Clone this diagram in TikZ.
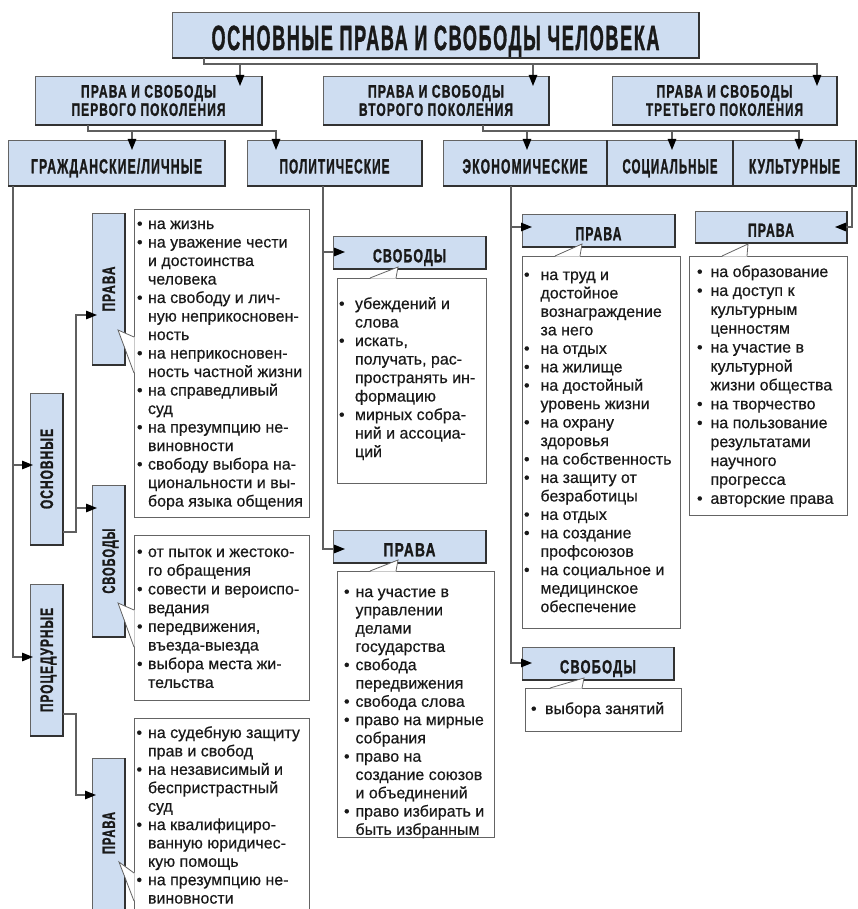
\documentclass[tikz,border=0pt]{standalone}
\usepackage{fontspec}
\setmainfont{Liberation Sans}[FakeBold=0.4]
\newfontfamily\hf{Liberation Sans Bold}[FakeBold=1.6,LetterSpace=9]
\usepackage{graphicx}
\usetikzlibrary{arrows.meta,calc}
\definecolor{boxblue}{RGB}{206,221,241}
\definecolor{edgegray}{RGB}{100,100,100}
\definecolor{shadowgray}{RGB}{50,50,50}
\definecolor{linegray}{RGB}{95,95,95}
\definecolor{ink}{RGB}{25,25,25}
\newlength\bw
\newcommand\hw[2]{\resizebox{#1pt}{\height}{#2}}
\newcommand\hr[3]{\raisebox{-#1pt}{\resizebox{#2pt}{\height}{#3}}}
\newcommand\fl{\rule{0pt}{13pt}}
\newcommand\B{\makebox[\bw][l]{\textbullet}}
\newcommand\C{\hspace*{\bw}}
\newcommand\bodyf[2]{\fontsize{16}{#1}\selectfont\setlength\bw{#2pt}}
\newcommand\lptr[5]{%
  \fill[white] ($(#1.west |- 0,#2)+(0.7,0)$) -- (#3,#4) -- ($(#1.west |- 0,#5)+(0.7,0)$) -- cycle;
  \draw[ptr] (#1.west |- 0,#2) -- (#3,#4) -- (#1.west |- 0,#5);}
\newcommand\tptr[5]{%
  \fill[white] ($(#1.north -| #2,0)+(0,0.7)$) -- (#3,#4) -- ($(#1.north -| #5,0)+(0,0.7)$) -- cycle;
  \draw[ptr] (#1.north -| #2,0) -- (#3,#4) -- (#1.north -| #5,0);}
\begin{document}
\begin{tikzpicture}[x=1pt,y=-1pt,
  bbox/.style={draw=edgegray, line width=0.8pt, fill=boxblue, inner sep=0pt, outer sep=0pt, anchor=north west, text=ink},
  wbox/.style={draw=edgegray, line width=0.8pt, fill=white, inner sep=0pt, outer sep=0pt, anchor=north west},
  txt/.style={anchor=north west, inner sep=0pt, outer sep=0pt, align=left, text=ink},
  hA/.style={font=\hf\fontsize{35}{35}\selectfont, text height=25pt, text depth=0pt},
  hB/.style={font=\hf\fontsize{18}{18.3}\selectfont, align=center},
  hC/.style={font=\hf\fontsize{20.5}{20.5}\selectfont, text height=14.7pt, text depth=0pt},
  hD/.style={font=\hf\fontsize{19}{19}\selectfont, text height=13.6pt, text depth=0pt},
  vtext/.style={rotate=90, inner sep=0pt, text=ink, font=\hf\fontsize{18}{18}\selectfont, text height=12.9pt, text depth=0pt},
  conn/.style={draw=linegray, line width=1.3pt},
  arr/.style={conn, -{Triangle[length=11pt,width=8.5pt,color=black]}},
  ptr/.style={draw=edgegray, line width=0.8pt},
  shad/.style={draw=shadowgray, line width=1.1pt}
]
\useasboundingbox (0,0) rectangle (858,909);
\fill[white] (0,0) rectangle (858,909);
\begin{scope}
\clip (0,0) rectangle (858,909);

% ---------- blue boxes ----------
\node[bbox, hA, minimum width=527pt, minimum height=46pt] (title) at (172,12) {\hr{2.5}{448}{ОСНОВНЫЕ ПРАВА И СВОБОДЫ ЧЕЛОВЕКА}};

\node[bbox, hB, minimum width=227pt, minimum height=49pt] (gen1) at (35,76) {\hw{135}{ПРАВА И СВОБОДЫ}\\\hw{154}{ПЕРВОГО ПОКОЛЕНИЯ}};
\node[bbox, hB, minimum width=226pt, minimum height=49pt] (gen2) at (323,76) {\hw{136}{ПРАВА И СВОБОДЫ}\\\hw{154}{ВТОРОГО ПОКОЛЕНИЯ}};
\node[bbox, hB, minimum width=225pt, minimum height=49pt] (gen3) at (612,76) {\hw{136}{ПРАВА И СВОБОДЫ}\\\hw{157}{ТРЕТЬЕГО ПОКОЛЕНИЯ}};

\node[bbox, hC, minimum width=217pt, minimum height=46pt] (civ) at (8,140) {\hr{3}{171}{ГРАЖДАНСКИЕ/ЛИЧНЫЕ}};
\node[bbox, hC, minimum width=175pt, minimum height=46pt] (pol) at (247,140) {\hr{3}{110}{ПОЛИТИЧЕСКИЕ}};
\node[bbox, hC, minimum width=164pt, minimum height=46pt] (eco) at (443,140) {\hr{3}{125}{ЭКОНОМИЧЕСКИЕ}};
\node[bbox, hC, minimum width=126pt, minimum height=46pt] (soc) at (607,140) {\hr{3}{95}{СОЦИАЛЬНЫЕ}};
\node[bbox, hC, minimum width=123pt, minimum height=46pt] (cul) at (733,140) {\hr{3}{91}{КУЛЬТУРНЫЕ}};

\node[bbox, minimum width=33pt, minimum height=152pt] (osn) at (30,393) {};
\node[bbox, minimum width=33pt, minimum height=152pt] (proc) at (30,584) {};
\node[bbox, minimum width=33pt, minimum height=152pt] (cprava) at (92,213) {};
\node[bbox, minimum width=33pt, minimum height=152pt] (csvob) at (92,485) {};
\node[bbox, minimum width=33pt, minimum height=160pt] (pprava) at (92,758) {};

\node[bbox, hD, minimum width=153pt, minimum height=33pt] (polsv) at (333,236) {\hr{3}{73}{СВОБОДЫ}};
\node[bbox, hD, minimum width=153pt, minimum height=33pt] (polpr) at (333,530) {\hr{3}{52}{ПРАВА}};
\node[bbox, hD, minimum width=153pt, minimum height=33pt] (ecopr) at (522,214) {\hr{3}{46}{ПРАВА}};
\node[bbox, hD, minimum width=152pt, minimum height=33pt] (ecosv) at (522,647) {\hr{3}{76}{СВОБОДЫ}};
\node[bbox, hD, minimum width=152pt, minimum height=32pt] (culpr) at (695,211) {\hr{3}{46}{ПРАВА}};

\foreach \n in {title,gen1,gen2,gen3,civ,pol,eco,soc,cul,osn,proc,cprava,csvob,pprava,polsv,polpr,ecopr,ecosv,culpr}
  \draw[shad] (\n.south west) -- (\n.south east) -- (\n.north east);

% vertical labels
\node[vtext] (osnT) at (osn.center) {\hw{80}{ОСНОВНЫЕ}};
\node[vtext] (procT) at (proc.center) {\hw{104}{ПРОЦЕДУРНЫЕ}};
\node[vtext] (cpravaT) at (cprava.center) {\hw{45}{ПРАВА}};
\node[vtext] (csvobT) at (csvob.center) {\hw{65}{СВОБОДЫ}};
\node[vtext] (ppravaT) at ($(pprava.north)+(0,75)$) {\hw{42}{ПРАВА}};

% ---------- white callouts ----------
\node[wbox, minimum width=175pt, minimum height=308pt] (c1) at (134,209) {};
\node[wbox, minimum width=175pt, minimum height=165pt] (c2) at (134,535) {};
\node[wbox, minimum width=175pt, minimum height=200pt] (c3) at (134,718) {};
\node[wbox, minimum width=149pt, minimum height=205pt] (c4) at (337,278) {};
\node[wbox, minimum width=157pt, minimum height=266pt] (c5) at (337,571) {};
\node[wbox, minimum width=158pt, minimum height=372pt] (c6) at (522,256) {};
\node[wbox, minimum width=156pt, minimum height=43pt] (c7) at (525,688) {};
\node[wbox, minimum width=158pt, minimum height=259pt] (c8) at (689,256) {};

\lptr{c1}{337}{118}{330}{373}
\lptr{c2}{610}{118}{603}{647}
\lptr{c3}{873}{119}{862}{901}
\tptr{c4}{370}{398}{267}{396}
\tptr{c5}{370}{398}{560}{396}
\tptr{c6}{555}{582}{244}{580}
\tptr{c7}{550}{584}{678}{582}
\tptr{c8}{722}{748}{244}{747}

% ---------- callout texts ----------
\node[txt, font={\bodyf{18.5}{11}}] (c1T) at (137,216) {\fl\B на жизнь\\
\B на уважение чести\\
\C и достоинства\\
\C человека\\
\B на свободу и лич-\\
\C ную неприкосновен-\\
\C ность\\
\B на неприкосновен-\\
\C ность частной жизни\\
\B на справедливый\\
\C суд\\
\B на презумпцию не-\\
\C виновности\\
\B свободу выбора на-\\
\C циональности и вы-\\
\C бора языка общения};

\node[txt, font={\bodyf{18.7}{11}}] (c2T) at (137,544) {\fl\B от пыток и жестоко-\\
\C го обращения\\
\B совести и вероиспо-\\
\C ведания\\
\B передвижения,\\
\C въезда-выезда\\
\B выбора места жи-\\
\C тельства};

\node[txt, font={\bodyf{18.4}{11.5}}] (c3T) at (136.5,725) {\fl\B на судебную защиту\\
\C прав и свобод\\
\B на независимый и\\
\C беспристрастный\\
\C суд\\
\B на квалифициро-\\
\C ванную юридичес-\\
\C кую помощь\\
\B на презумпцию не-\\
\C виновности};

\node[txt, font={\bodyf{18.5}{16}}] (c4T) at (339,296) {\fl\B убеждений и\\
\C слова\\
\B искать,\\
\C получать, рас-\\
\C пространять ин-\\
\C формацию\\
\B мирных собра-\\
\C ний и ассоциа-\\
\C ций};

\node[txt, font={\bodyf{18.3}{11.5}}] (c5T) at (344,584) {\fl\B на участие в\\
\C управлении\\
\C делами\\
\C государства\\
\B свобода\\
\C передвижения\\
\B свобода слова\\
\B право на мирные\\
\C собрания\\
\B право на\\
\C создание союзов\\
\C и объединений\\
\B право избирать и\\
\C быть избранным};

\node[txt, font={\bodyf{18.45}{16.5}}] (c6T) at (524,267) {\fl\B на труд и\\
\C достойное\\
\C вознаграждение\\
\C за него\\
\B на отдых\\
\B на жилище\\
\B на достойный\\
\C уровень жизни\\
\B на охрану\\
\C здоровья\\
\B на собственность\\
\B на защиту от\\
\C безработицы\\
\B на отдых\\
\B на создание\\
\C профсоюзов\\
\B на социальное и\\
\C медицинское\\
\C обеспечение};

\node[txt, font={\bodyf{18.4}{14}}] (c7T) at (531,701) {\fl\B выбора занятий};

\node[txt, font={\bodyf{18.9}{13.5}}] (c8T) at (697,264) {\fl\B на образование\\
\B на доступ к\\
\C культурным\\
\C ценностям\\
\B на участие в\\
\C культурной\\
\C жизни общества\\
\B на творчество\\
\B на пользование\\
\C результатами\\
\C научного\\
\C прогресса\\
\B авторские права};

% ---------- connectors ----------
\draw[arr] (204,0 |- title.south) |- (817,64) -- ($(817,0 |- gen3.north)+(0,10)$);
\draw[arr] (240,64) -- ($(240,0 |- gen1.north)+(0,10)$);
\draw[arr] (533,64) -- ($(533,0 |- gen2.north)+(0,10)$);

\draw[arr] (88,0 |- gen1.south) |- (276,131) -- ($(276,0 |- pol.north)+(0,10)$);
\draw[arr] (132,131) -- ($(132,0 |- civ.north)+(0,10)$);

\draw[arr] (483,0 |- gen2.south) |- (799,131) -- ($(799,0 |- cul.north)+(0,10)$);
\draw[arr] (527,131) -- ($(527,0 |- eco.north)+(0,10)$);
\draw[arr] (672,131) -- ($(672,0 |- soc.north)+(0,10)$);

\draw[arr] (13,0 |- civ.south) |- ($(proc.west |- 0,657)+(3,0)$);
\draw[arr] (13,465) -- ($(osn.west |- 0,465)+(3,0)$);

\draw[arr] (osn.east |- 0,532) -| (76,315) -- ($(cprava.west |- 0,315)+(5,0)$);
\draw[arr] (76,508) -- ($(csvob.west |- 0,508)+(5,0)$);

\draw[arr] (proc.east |- 0,714) -| (76,795) -- ($(pprava.west |- 0,795)+(4,0)$);

\draw[arr] (323,0 |- pol.south) |- ($(polpr.west |- 0,549)+(12,0)$);
\draw[arr] (323,252) -- ($(polsv.west |- 0,252)+(12,0)$);

\draw[arr] (511,0 |- eco.south) |- ($(ecosv.west |- 0,663)+(10,0)$);
\draw[arr] (511,227) -- ($(ecopr.west |- 0,227)+(10,0)$);

\draw[arr] (852,0 |- cul.south) |- ($(culpr.east |- 0,227)+(-12,0)$);
\end{scope}
\end{tikzpicture}
\end{document}
